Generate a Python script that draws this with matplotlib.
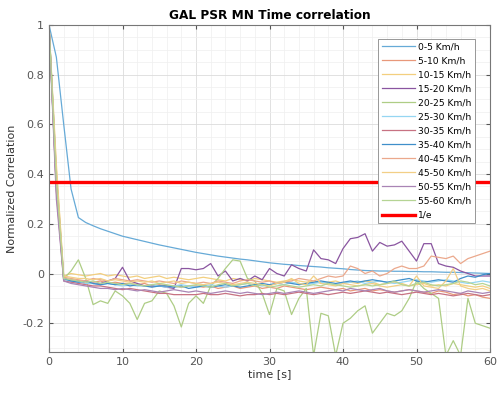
import numpy as np
import matplotlib
matplotlib.use('Agg')
import matplotlib.pyplot as plt
from matplotlib.ticker import MultipleLocator, FuncFormatter

labels = ['0-5 Km/h', '5-10 Km/h', '10-15 Km/h', '15-20 Km/h', '20-25 Km/h', '25-30 Km/h',
          '30-35 Km/h', '35-40 Km/h', '40-45 Km/h', '45-50 Km/h', '50-55 Km/h', '55-60 Km/h']

s0 = [1.0, 0.87, 0.60, 0.34, 0.225, 0.205, 0.192, 0.18, 0.17, 0.16, 0.15, 0.143, 0.136, 0.129, 0.122,
      0.115, 0.109, 0.103, 0.097, 0.091, 0.085, 0.08, 0.075, 0.07, 0.066, 0.062, 0.058, 0.055, 0.051,
      0.047, 0.043, 0.04, 0.037, 0.035, 0.032, 0.03, 0.028, 0.026, 0.023, 0.021, 0.019, 0.016, 0.014,
      0.012, 0.011, 0.01, 0.01, 0.009, 0.009, 0.008, 0.008, 0.007, 0.007, 0.006, 0.005, 0.005, 0.004,
      0.003, 0.002, 0.001, 0.0]
s1 = [1.0, 0.38, -0.02, -0.025, -0.03, -0.03, -0.035, -0.03, -0.04, -0.035, -0.04, -0.04, -0.045, -0.04,
      -0.05, -0.045, -0.05, -0.05, -0.055, -0.05, -0.05, -0.055, -0.05, -0.06, -0.055, -0.05, -0.06, -0.055,
      -0.05, -0.06, -0.055, -0.06, -0.05, -0.055, -0.06, -0.065, -0.06, -0.055, -0.06, -0.065, -0.06, -0.07,
      -0.065, -0.06, -0.07, -0.065, -0.07, -0.075, -0.07, -0.065, -0.07, -0.075, -0.08, -0.07, -0.075,
      -0.085, -0.08, -0.09, -0.085, -0.095, -0.1]
s2 = [1.0, 0.42, -0.01, 0.0, -0.005, -0.01, -0.005, 0.0, -0.01, -0.005, -0.01, -0.015, -0.01, -0.02,
      -0.015, -0.01, -0.02, -0.015, -0.02, -0.025, -0.02, -0.015, -0.02, -0.025, -0.03, -0.02, -0.025, -0.03,
      -0.02, -0.025, -0.03, -0.035, -0.03, -0.025, -0.03, -0.035, -0.03, -0.04, -0.035, -0.03, -0.04, -0.035,
      -0.04, -0.03, -0.035, -0.045, -0.04, -0.035, -0.04, -0.05, -0.045, -0.04, -0.05, -0.045, -0.05, -0.04,
      -0.045, -0.05, -0.055, -0.05, -0.06]
s3 = [1.0, 0.34, -0.02, -0.03, -0.03, -0.04, -0.04, -0.04, -0.03, -0.02, 0.025, -0.03, -0.04, -0.05,
      -0.05, -0.05, -0.055, -0.06, 0.02, 0.02, 0.015, 0.02, 0.04, -0.01, 0.01, -0.03, -0.02, -0.03, -0.01,
      -0.025, 0.02, 0.0, -0.01, 0.035, 0.02, 0.01, 0.095, 0.06, 0.055, 0.04, 0.1, 0.14, 0.145, 0.16, 0.09,
      0.125, 0.11, 0.115, 0.13, 0.09, 0.05, 0.12, 0.12, 0.04, 0.03, 0.025, 0.01, 0.0, -0.01, -0.01, -0.01]
s4 = [1.0, 0.4, -0.02, 0.01, 0.055, -0.02, -0.125, -0.11, -0.12, -0.07, -0.09, -0.12, -0.185, -0.12,
      -0.11, -0.07, -0.08, -0.13, -0.215, -0.12, -0.09, -0.12, -0.05, -0.02, 0.02, 0.055, 0.05, -0.02,
      -0.03, -0.08, -0.165, -0.06, -0.07, -0.165, -0.1, -0.06, -0.33, -0.16, -0.17, -0.33, -0.2, -0.18,
      -0.15, -0.13, -0.24, -0.2, -0.16, -0.17, -0.15, -0.1, -0.03, -0.06, -0.08, -0.1, -0.33, -0.27, -0.33,
      -0.1, -0.2, -0.21, -0.22]
s5 = [1.0, 0.35, -0.025, -0.03, -0.035, -0.04, -0.04, -0.045, -0.04, -0.045, -0.05, -0.045, -0.05, -0.05,
      -0.045, -0.05, -0.055, -0.05, -0.045, -0.05, -0.055, -0.05, -0.045, -0.05, -0.055, -0.05, -0.045,
      -0.04, -0.045, -0.05, -0.045, -0.04, -0.045, -0.035, -0.04, -0.045, -0.04, -0.035, -0.04, -0.045,
      -0.04, -0.035, -0.03, -0.04, -0.035, -0.03, -0.035, -0.04, -0.035, -0.03, -0.025, -0.03, -0.035,
      -0.03, -0.025, -0.03, -0.035, -0.04, -0.035, -0.03, -0.035]
s6 = [1.0, 0.33, -0.03, -0.035, -0.04, -0.045, -0.05, -0.05, -0.055, -0.06, -0.065, -0.06, -0.065, -0.07,
      -0.075, -0.08, -0.08, -0.085, -0.085, -0.085, -0.085, -0.08, -0.085, -0.085, -0.08, -0.085, -0.09,
      -0.085, -0.085, -0.08, -0.085, -0.08, -0.085, -0.08, -0.075, -0.08, -0.085, -0.08, -0.085, -0.08,
      -0.075, -0.08, -0.075, -0.07, -0.075, -0.08, -0.075, -0.08, -0.085, -0.08, -0.075, -0.08, -0.085,
      -0.08, -0.085, -0.09, -0.085, -0.08, -0.085, -0.09, -0.085]
s7 = [1.0, 0.4, -0.02, -0.03, -0.035, -0.03, -0.04, -0.045, -0.04, -0.045, -0.04, -0.05, -0.045, -0.05,
      -0.055, -0.05, -0.05, -0.055, -0.05, -0.06, -0.055, -0.05, -0.055, -0.05, -0.045, -0.05, -0.055, -0.05,
      -0.045, -0.04, -0.045, -0.04, -0.035, -0.04, -0.045, -0.04, -0.035, -0.03, -0.035, -0.04, -0.035,
      -0.03, -0.035, -0.03, -0.025, -0.03, -0.035, -0.03, -0.025, -0.02, -0.03, -0.035, -0.03, -0.025,
      -0.03, -0.035, -0.02, -0.01, -0.015, -0.005, 0.0]
s8 = [1.0, 0.36, -0.015, -0.02, -0.025, -0.03, -0.02, -0.025, -0.03, -0.02, -0.025, -0.03, -0.025, -0.03,
      -0.035, -0.03, -0.035, -0.04, -0.03, -0.035, -0.04, -0.035, -0.04, -0.03, -0.035, -0.04, -0.03, -0.025,
      -0.03, -0.035, -0.03, -0.04, -0.035, -0.03, -0.02, -0.025, -0.03, -0.02, -0.01, -0.015, -0.01, 0.03,
      0.02, 0.0, 0.01, -0.01, 0.0, 0.02, 0.03, 0.02, 0.02, 0.03, 0.07, 0.065, 0.06, 0.07, 0.04, 0.06, 0.07,
      0.08, 0.09]
s9 = [1.0, 0.44, -0.01, -0.015, -0.02, -0.02, -0.025, -0.02, -0.03, -0.025, -0.03, -0.035, -0.03, -0.035,
      -0.03, -0.04, -0.035, -0.03, -0.04, -0.035, -0.04, -0.045, -0.04, -0.035, -0.04, -0.045, -0.04, -0.035,
      -0.04, -0.045, -0.05, -0.04, -0.035, -0.02, -0.04, -0.045, -0.01, -0.04, -0.045, -0.05, -0.04, -0.045,
      -0.05, -0.045, -0.04, -0.05, -0.055, -0.05, -0.045, -0.05, -0.01, -0.05, -0.055, -0.06, -0.03, 0.02,
      -0.05, -0.06, -0.065, -0.06, -0.07]
s10 = [1.0, 0.3, -0.03, -0.04, -0.045, -0.05, -0.055, -0.06, -0.06, -0.065, -0.06, -0.065, -0.07, -0.065,
       -0.07, -0.075, -0.07, -0.065, -0.07, -0.075, -0.07, -0.075, -0.08, -0.075, -0.07, -0.075, -0.08,
       -0.075, -0.08, -0.085, -0.08, -0.075, -0.08, -0.075, -0.07, -0.075, -0.08, -0.075, -0.07, -0.065,
       -0.07, -0.06, -0.065, -0.07, -0.065, -0.06, -0.07, -0.075, -0.07, -0.065, -0.07, -0.075, -0.07,
       -0.065, -0.07, -0.075, -0.08, -0.07, -0.075, -0.08, -0.075]
s11 = [1.0, 0.37, -0.02, -0.025, -0.03, -0.035, -0.03, -0.04, -0.035, -0.04, -0.045, -0.04, -0.045, -0.05,
       -0.045, -0.04, -0.045, -0.05, -0.055, -0.05, -0.045, -0.05, -0.055, -0.045, -0.04, -0.05, -0.045,
       -0.04, -0.05, -0.045, -0.055, -0.05, -0.045, -0.05, -0.055, -0.05, -0.045, -0.05, -0.04, -0.045,
       -0.05, -0.055, -0.05, -0.045, -0.05, -0.045, -0.04, -0.03, -0.045, -0.05, -0.04, -0.035, -0.045,
       -0.05, -0.045, -0.04, -0.03, -0.035, -0.045, -0.04, -0.05]
series = [s0, s1, s2, s3, s4, s5, s6, s7, s8, s9, s10, s11]

# faded matlab default colors
colors = ['#66aad7', '#e8987a', '#f3cf7e', '#8a55a0', '#aecd85', '#95d6f2',
          '#c77282', '#3f8fca', '#eba88c', '#f2cf86', '#a984b5', '#b5d494']

fig = plt.figure(figsize=(5, 3.94), dpi=100)
ax = fig.add_axes([0.098, 0.107, 0.882, 0.83])

for s, c, lab in zip(series, colors, labels):
    ax.plot(np.arange(len(s)), s, color=c, lw=0.9, label=lab)
ax.axhline(1 / np.e, color='#ff0000', lw=2.4, label='1/e')

ax.set_xlim(0, 60)
ax.set_ylim(-0.315, 1)
ax.xaxis.set_major_locator(MultipleLocator(10))
ax.xaxis.set_minor_locator(MultipleLocator(2))
ax.yaxis.set_major_locator(MultipleLocator(0.2))
ax.yaxis.set_minor_locator(MultipleLocator(0.05))
ax.yaxis.set_major_formatter(FuncFormatter(lambda v, p: ('%g' % round(v, 2))))
ax.grid(which='major', color='#dcdcdc', lw=0.6)
ax.grid(which='minor', color='#efefef', lw=0.5)
ax.set_axisbelow(True)
ax.tick_params(which='both', direction='in', top=True, right=True, colors='#555555',
               labelsize=8, length=3)
ax.tick_params(which='minor', length=0)
for sp in ax.spines.values():
    sp.set_color('#777777')
    sp.set_linewidth(0.8)

ax.set_title('GAL PSR MN Time correlation', fontsize=8.7, fontweight='bold', pad=4)
ax.set_xlabel('time [s]', fontsize=8, color='#333333', labelpad=2)
ax.set_ylabel('Normalized Correlation', fontsize=8, color='#333333', labelpad=4)

leg = ax.legend(loc='upper right', fontsize=6.6, handlelength=3.6, handletextpad=0.4,
                labelspacing=0.55, borderpad=0.4, fancybox=False, framealpha=1,
                edgecolor='#888888', bbox_to_anchor=(0.977, 0.972))
leg.get_frame().set_linewidth(0.6)

fig.savefig('out.png', dpi=100)
